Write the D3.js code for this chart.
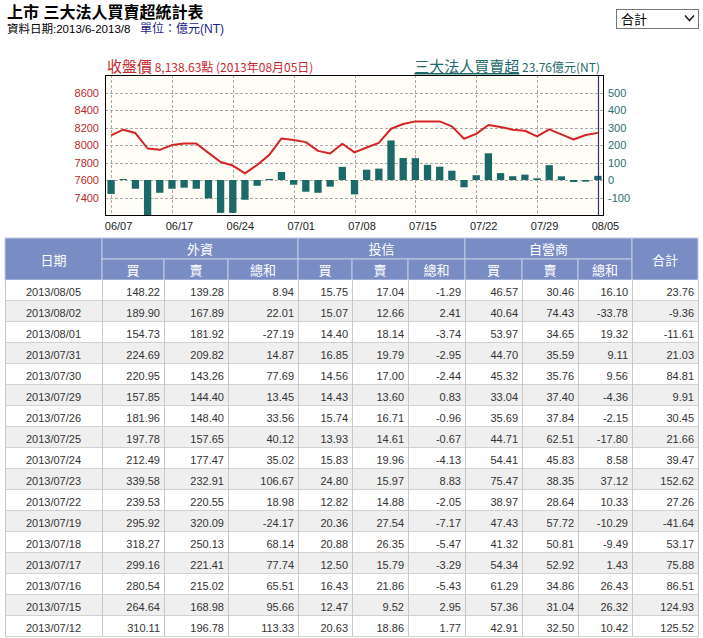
<!DOCTYPE html>
<html><head><meta charset="utf-8">
<script src="https://cdn.jsdelivr.net/npm/d3@7"></script>
<style>body{margin:0;background:#fff;} svg{display:block;}</style>
</head><body>
<svg id="c" width="703" height="638"></svg>
<script>
// ---------- DATA ----------
const tradingDays = ["06/07","06/10","06/11","06/13","06/14","06/17","06/18","06/19","06/20","06/21",
  "06/24","06/25","06/26","06/27","06/28","07/01","07/02","07/03","07/04","07/05",
  "07/08","07/09","07/10","07/11","07/12","07/15","07/16","07/17","07/18","07/19",
  "07/22","07/23","07/24","07/25","07/26","07/29","07/30","07/31","08/01","08/02","08/05"];
const closeIndex = [8109,8175,8137,7960,7945,7999,8017,8017,7910,7805,
  7765,7675,7772,7887,8075,8056,8033,7933,7902,8014,
  7915,7971,8025,8186,8240,8270,8270,8270,8213,8071,
  8127,8229,8206,8175,8163,8098,8178,8121,8063,8114,8138.63];
const netBuySell = [-80,6,-50,-230,-73,-50,-44,-50,-105,-188,
  -188,-113,-33,6,46,-27,-67,-73,-38,75,
  -82,59,65,226,125.52,124.93,86.51,75.88,53.17,-41.64,
  27.26,152.62,39.47,21.66,30.45,9.91,84.81,21.03,-11.61,-9.36,23.76];
const leftTicks = [7400,7600,7800,8000,8200,8400,8600];
const rightTicks = [-100,0,100,200,300,400,500];
const xTickLabels = ["06/07","06/17","06/24","07/01","07/08","07/15","07/22","07/29","08/05"];

const tableDates = ["2013/08/05","2013/08/02","2013/08/01","2013/07/31","2013/07/30","2013/07/29","2013/07/26","2013/07/25","2013/07/24","2013/07/23","2013/07/22","2013/07/19","2013/07/18","2013/07/17","2013/07/16","2013/07/15","2013/07/12"];
const foreignBuy  = [148.22,189.90,154.73,224.69,220.95,157.85,181.96,197.78,212.49,339.58,239.53,295.92,318.27,299.16,280.54,264.64,310.11];
const foreignSell = [139.28,167.89,181.92,209.82,143.26,144.40,148.40,157.65,177.47,232.91,220.55,320.09,250.13,221.41,215.02,168.98,196.78];
const foreignNet  = [8.94,22.01,-27.19,14.87,77.69,13.45,33.56,40.12,35.02,106.67,18.98,-24.17,68.14,77.74,65.51,95.66,113.33];
const trustBuy    = [15.75,15.07,14.40,16.85,14.56,14.43,15.74,13.93,15.83,24.80,12.82,20.36,20.88,12.50,16.43,12.47,20.63];
const trustSell   = [17.04,12.66,18.14,19.79,17.00,13.60,16.71,14.61,19.96,15.97,14.88,27.54,26.35,15.79,21.86,9.52,18.86];
const trustNet    = [-1.29,2.41,-3.74,-2.95,-2.44,0.83,-0.96,-0.67,-4.13,8.83,-2.05,-7.17,-5.47,-3.29,-5.43,2.95,1.77];
const dealerBuy   = [46.57,40.64,53.97,44.70,45.32,33.04,35.69,44.71,54.41,75.47,38.97,47.43,41.32,54.34,61.29,57.36,42.91];
const dealerSell  = [30.46,74.43,34.65,35.59,35.76,37.40,37.84,62.51,45.83,38.35,28.64,57.72,50.81,52.92,34.86,31.04,32.50];
const dealerNet   = [16.10,-33.78,19.32,9.11,9.56,-4.36,-2.15,-17.80,8.58,37.12,10.33,-10.29,-9.49,1.43,26.43,26.32,10.42];
const totalNet    = [23.76,-9.36,-11.61,21.03,84.81,9.91,30.45,21.66,39.47,152.62,27.26,-41.64,53.17,75.88,86.51,124.93,125.52];

const groupNames = ["外資","投信","自營商"];
const subNames = ["買","賣","總和"];

// ---------- LAYOUT ----------
const svg = d3.select("#c");
const CJK = "'Noto Sans CJK TC','Liberation Sans',sans-serif";
const LAT = "'Liberation Sans','Noto Sans CJK TC',sans-serif";

// Title
svg.append("text").attr("x",7).attr("y",17.5).attr("font-family",LAT).attr("font-size",16)
  .attr("font-weight","bold").attr("fill","#000").text("上市 三大法人買賣超統計表");
svg.append("text").attr("x",7).attr("y",33).attr("font-family",LAT).attr("font-size",11.5)
  .attr("fill","#000").text("資料日期:2013/6-2013/8");
svg.append("text").attr("x",140).attr("y",33).attr("font-family",LAT).attr("font-size",12)
  .attr("fill","#1b1b8a").text("單位：億元(NT)");

// Dropdown
const dd = svg.append("g");
dd.append("rect").attr("x",616.5).attr("y",9.5).attr("width",82).attr("height",19)
  .attr("fill","#fff").attr("stroke","#767676");
dd.append("text").attr("x",621).attr("y",24).attr("font-family",CJK).attr("font-size",13)
  .attr("fill","#000").text("合計");
dd.append("path").attr("d","M685,15.5 L689.5,20.5 L694,15.5").attr("fill","none")
  .attr("stroke","#222").attr("stroke-width",1.6);

// Chart
const plot = {l:105, r:604, t:75, b:215};
const x = d3.scaleBand().domain(tradingDays).range([plot.l, plot.r]).padding(0);
const bw = x.bandwidth();
const yL = d3.scaleLinear().domain([7200,8800]).range([plot.b, plot.t]);
const yR = d3.scaleLinear().domain([-200,600]).range([plot.b, plot.t]);

svg.append("defs").append("clipPath").attr("id","pc").append("rect")
  .attr("x",plot.l).attr("y",plot.t).attr("width",plot.r-plot.l).attr("height",plot.b-plot.t);

svg.append("rect").attr("x",plot.l).attr("y",plot.t).attr("width",plot.r-plot.l)
  .attr("height",plot.b-plot.t).attr("fill","#fffdf6");

const grid = svg.append("g").attr("stroke","#a8a8a8").attr("stroke-dasharray","3,2").attr("stroke-width",1);
grid.selectAll("line.h").data(leftTicks).join("line").attr("class","h")
  .attr("x1",plot.l).attr("x2",plot.r)
  .attr("y1",d=>Math.round(yL(d))+0.5).attr("y2",d=>Math.round(yL(d))+0.5);
grid.selectAll("line.v").data(xTickLabels).join("line").attr("class","v")
  .attr("x1",d=>Math.round(x(d)+bw/2)+0.5).attr("x2",d=>Math.round(x(d)+bw/2)+0.5)
  .attr("y1",plot.t).attr("y2",plot.b);

const barW = bw*0.6;
svg.append("g").attr("clip-path","url(#pc)").selectAll("rect")
  .data(tradingDays.map((d,i)=>({d, v:netBuySell[i]}))).join("rect")
  .attr("x",p=>x(p.d)+(bw-barW)/2).attr("width",barW)
  .attr("y",p=>yR(Math.max(0,p.v))).attr("height",p=>Math.abs(yR(p.v)-yR(0)))
  .attr("fill","#1b6a69");

const line = d3.line().x(p=>x(p.d)+bw/2).y(p=>yL(p.v));
svg.append("path").datum(tradingDays.map((d,i)=>({d, v:closeIndex[i]})))
  .attr("d",line).attr("fill","none").attr("stroke","#d42424").attr("stroke-width",2)
  .attr("stroke-linejoin","round");

const lastX = Math.round(x(tradingDays[tradingDays.length-1])+bw/2)+0.5;
svg.append("line").attr("x1",lastX).attr("x2",lastX).attr("y1",plot.t).attr("y2",plot.b)
  .attr("stroke","#35307a").attr("stroke-width",1.2);

svg.append("rect").attr("x",plot.l+0.5).attr("y",plot.t+0.5).attr("width",plot.r-plot.l-1)
  .attr("height",plot.b-plot.t).attr("fill","none").attr("stroke","#000");

// Axes
const xa = svg.append("g").attr("transform",`translate(0,${plot.b})`)
  .call(d3.axisBottom(x).tickValues(xTickLabels).tickSize(0).tickPadding(7));
xa.select(".domain").remove();
xa.selectAll("text").attr("dx",7.5).attr("font-family",LAT).attr("font-size",11).attr("fill","#222");

const la = svg.append("g").attr("transform",`translate(${plot.l},0)`)
  .call(d3.axisLeft(yL).tickValues(leftTicks).tickFormat(d=>String(d)).tickSize(0).tickPadding(6));
la.select(".domain").remove();
la.selectAll("text").attr("font-family",LAT).attr("font-size",11).attr("fill","#b82a2a");

const ra = svg.append("g").attr("transform",`translate(${plot.r},0)`)
  .call(d3.axisRight(yR).tickValues(rightTicks).tickFormat(d=>String(d)).tickSize(0).tickPadding(4));
ra.select(".domain").remove();
ra.selectAll("text").attr("font-family",LAT).attr("font-size",11).attr("fill","#2a6e6e");

// Chart titles
const t1 = svg.append("text").attr("x",107).attr("y",72).attr("font-family",CJK).attr("fill","#c8282d");
t1.append("tspan").attr("font-size",15).text("收盤價");
t1.append("tspan").attr("font-size",12).text(" 8,138.63點 (2013年08月05日)");
const t2 = svg.append("text").attr("x",600).attr("y",72).attr("text-anchor","end")
  .attr("font-family",CJK).attr("fill","#1f6a6a");
t2.append("tspan").attr("font-size",15).attr("text-decoration","underline").text("三大法人買賣超");
t2.append("tspan").attr("font-size",12).text(" 23.76億元(NT)");

// Table
const cols = [5,102,164,228,298,352,408,465,522,578,632,698];
const hTop = 238, hMid = 259, rowTop = 280, rowH = 21;
const hdr = svg.append("g");
const hdrFill = "#7a8cc4", hdrLine = "#c3cbe6";
function hcell(x0,x1,y0,y1,label,baseline){
  hdr.append("rect").attr("x",x0).attr("y",y0).attr("width",x1-x0).attr("height",y1-y0)
    .attr("fill",hdrFill).attr("stroke",hdrLine).attr("stroke-width",1);
  hdr.append("text").attr("x",(x0+x1)/2).attr("y",baseline).attr("text-anchor","middle")
    .attr("font-family",CJK).attr("font-size",13).attr("fill","#fff").text(label);
}
hcell(cols[0],cols[1],hTop,rowTop,"日期",264.5);
groupNames.forEach((g,gi)=>{
  hcell(cols[1+gi*3],cols[4+gi*3],hTop,hMid,g,253.5);
  subNames.forEach((s,si)=>hcell(cols[1+gi*3+si],cols[2+gi*3+si],hMid,rowTop,s,274.5));
});
hcell(cols[10],cols[11],hTop,rowTop,"合計",264.5);

const fmt = v => v.toFixed(2);
const rows = tableDates.map((d,i)=>[d,foreignBuy[i],foreignSell[i],foreignNet[i],trustBuy[i],trustSell[i],trustNet[i],dealerBuy[i],dealerSell[i],dealerNet[i],totalNet[i]]);
const body = svg.append("g");
const rg = body.selectAll("g").data(rows).join("g")
  .attr("transform",(r,i)=>`translate(0,${rowTop+i*rowH})`);
rg.append("rect").attr("x",cols[0]).attr("y",0).attr("width",cols[11]-cols[0]).attr("height",rowH)
  .attr("fill",(r,i)=>i%2? "#efefef":"#ffffff");
rg.append("line").attr("x1",cols[0]).attr("x2",cols[11]).attr("y1",rowH-0.5).attr("y2",rowH-0.5)
  .attr("stroke","#d2d2d2");
rg.selectAll("text").data(r=>r).join("text")
  .attr("x",(v,j)=> j===0 ? (cols[0]+cols[1])/2 : cols[j+1]-4)
  .attr("y",15.5)
  .attr("text-anchor",(v,j)=> j===0 ? "middle":"end")
  .attr("font-family",LAT).attr("font-size",11).attr("fill","#333")
  .text((v,j)=> j===0 ? v : fmt(v));
body.selectAll("line.vc").data(cols).join("line").attr("class","vc")
  .attr("x1",c=>c+0.5).attr("x2",c=>c+0.5).attr("y1",rowTop).attr("y2",rowTop+rows.length*rowH)
  .attr("stroke","#c8c8c8");
</script>
</body></html>
